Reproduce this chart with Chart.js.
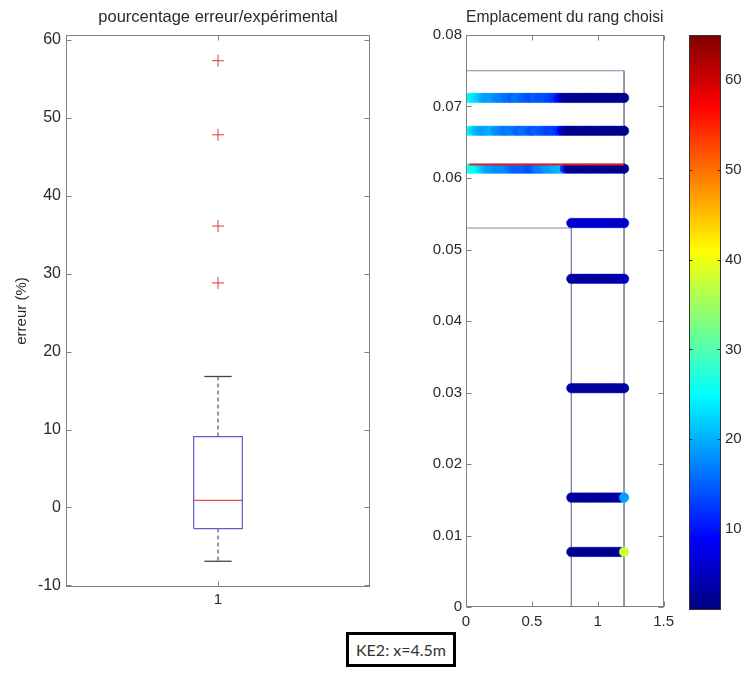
<!DOCTYPE html>
<html><head><meta charset="utf-8">
<script src="https://cdn.jsdelivr.net/npm/chart.js@4.4.0/dist/chart.umd.min.js"></script>
<style>
html,body{margin:0;padding:0;background:#fff;width:752px;height:677px;overflow:hidden;}
canvas{position:absolute;}
#label{position:absolute;left:346px;top:632px;width:104px;height:29px;border:3px solid #000;font:16px Lato, sans-serif;color:#333;display:flex;align-items:center;justify-content:center;background:#fff;}
</style></head><body>
<canvas id="cLeft" width="380" height="620" style="left:0;top:0;width:380px;height:620px"></canvas>
<canvas id="cRight" width="280" height="640" style="left:400px;top:0;width:280px;height:640px"></canvas>
<canvas id="cBar" width="72" height="640" style="left:680px;top:0;width:72px;height:640px"></canvas>
<div id="label">KE2: x=4.5m</div>
<script>
// ---------- Left panel: boxplot of error (%) ----------
const boxCategories = ['1'];
const boxPositions = [1];
const boxLowerWhisker = [-6.9];
const boxQ1 = [-2.7];
const boxMedian = [0.9];
const boxQ3 = [9.1];
const boxUpperWhisker = [16.8];
const boxOutliers = [57.3, 47.8, 36.1, 28.8];
const leftYTicks = [-10, 0, 10, 20, 30, 40, 50, 60];

// ---------- Right panel: chosen rank locations ----------
const rightXTicks = [0, 0.5, 1, 1.5];
const rightYTicks = [0, 0.01, 0.02, 0.03, 0.04, 0.05, 0.06, 0.07, 0.08];
const rowY = [0.0712, 0.0666, 0.0613, 0.0537, 0.0459, 0.0306, 0.0153, 0.0077];
const xFull = [0, 0.025, 0.05, 0.075, 0.1, 0.125, 0.15, 0.175, 0.2, 0.225, 0.25, 0.275, 0.3, 0.325, 0.35, 0.375,
  0.4, 0.425, 0.45, 0.475, 0.5, 0.525, 0.55, 0.575, 0.6, 0.625, 0.65, 0.675, 0.7, 0.725, 0.75, 0.775,
  0.8, 0.825, 0.85, 0.875, 0.9, 0.925, 0.95, 0.975, 1.0, 1.025, 1.05, 1.075, 1.1, 1.125, 1.15, 1.175, 1.2];
const xPart = [0.8, 0.825, 0.85, 0.875, 0.9, 0.925, 0.95, 0.975, 1.0, 1.025, 1.05, 1.075, 1.1, 1.125, 1.15, 1.175, 1.2];
const row1Err = [24, 25, 24, 23, 22, 20, 19, 19, 19, 18, 17, 17, 16, 16, 15, 16, 16, 15, 15, 14, 14, 15, 14, 14, 14, 13, 13, 12, 10, 6, 3, 2,
  2, 2, 2, 2, 2, 2, 2, 2, 2, 2, 2, 2, 2, 2, 2, 2, 2];
const row2Err = [25, 25, 23, 21, 20, 19, 19, 20, 20, 18, 18, 17, 16, 17, 17, 16, 15, 16, 16, 15, 14, 15, 15, 14, 14, 13, 13, 13, 12, 8, 4, 2,
  2, 2, 2, 2, 2, 2, 2, 2, 2, 2, 2, 2, 2, 2, 2, 2, 2];
const row3Err = [27, 26, 26, 25, 24, 22, 20, 19, 19, 18, 18, 18, 18, 17, 16, 15, 15, 15, 15, 14, 14, 16, 17, 17, 18, 19, 19, 20, 20, 21, 12, 3,
  2, 2, 2, 2, 2, 2, 2, 2, 2, 2, 2, 2, 2, 2, 2, 2, 2];
const row4Err = [6, 6, 6, 6, 6, 6, 6, 6, 6, 6, 6, 6, 6, 6, 5, 5, 6];
const row5Err = [3, 3, 3, 3, 3, 3, 3, 3, 3, 3, 3, 3, 3, 3, 4, 4, 5];
const row6Err = [3, 3, 3, 3, 3, 3, 3, 3, 3, 3, 3, 3, 3, 3, 3, 3, 3];
const row7Err = [3, 3, 3, 3, 3, 3, 3, 3, 3, 3, 3, 3, 3, 3, 3, 4, 19];
const row8Err = [2, 2, 2, 2, 2, 2, 2, 2, 2, 2, 2, 2, 2, 2, 2, 3, 38];
const redLineY = [0.0619];
const redLineX = [0.025, 1.2];
// outline of the domain: upper band (x 0..1.2, y 0.053..0.075) and column (x 0.8..1.2, y 0..0.053)
const outlineX = [0, 1.2, 1.2];
const outlineY = [0.075, 0.075, 0];
const stepX = [0, 0.8, 0.8];
const stepY = [0.053, 0.053, 0];

// ---------- Colour bar ----------
const cMin = 1, cMax = 65;
const colorbarTicks = [10, 20, 30, 40, 50, 60];

// ---------- helpers ----------
const clamp = v => Math.max(0, Math.min(1, v));
function jet(v) {
  const t = clamp((v - cMin) / (cMax - cMin));
  const r = clamp(Math.min(4 * t - 1.5, -4 * t + 4.5));
  const g = clamp(Math.min(4 * t - 0.5, -4 * t + 3.5));
  const b = clamp(Math.min(4 * t + 0.5, -4 * t + 2.5));
  return `rgb(${Math.round(r * 255)},${Math.round(g * 255)},${Math.round(b * 255)})`;
}

Chart.defaults.font.family = '"Liberation Sans", Arial, sans-serif';
Chart.defaults.font.size = 15;
Chart.defaults.color = '#2a2a2a';
Chart.defaults.animation = false;

const framePlugin = {
  id: 'frame',
  afterDraw(chart, args, o) {
    if (!o || !o.enabled) return;
    const { ctx, chartArea: a, scales } = chart;
    const L = Math.round(a.left) + 0.5, R = Math.round(a.right) - 0.5;
    const T = Math.round(a.top) + 0.5, B = Math.round(a.bottom) - 0.5;
    ctx.save();
    ctx.strokeStyle = o.color; ctx.lineWidth = 1;
    ctx.strokeRect(L, T, R - L, B - T);
    const n = o.tickLen;
    ctx.beginPath();
    if (o.y) (o.y).forEach(v => {
      const p = Math.round(scales.y.getPixelForValue(v)) + 0.5;
      ctx.moveTo(L, p); ctx.lineTo(L + n, p);
      ctx.moveTo(R, p); ctx.lineTo(R - n, p);
    });
    if (o.x) (o.x).forEach(v => {
      const p = Math.round(scales.x.getPixelForValue(v)) + 0.5;
      ctx.moveTo(p, B); ctx.lineTo(p, B - n);
      ctx.moveTo(p, T); ctx.lineTo(p, T + n);
    });
    ctx.stroke();
    ctx.restore();
  }
};

const titleOpts = text => ({
  display: true, text, fullSize: false,
  font: { size: 16.5, weight: 'normal' }, color: '#2a2a2a',
  padding: { top: 8, bottom: 7.2 }
});
const noGrid = { display: false, drawTicks: false, tickLength: 0 };

// ---------- Left chart ----------
const bw = 0.08, cw = 0.045;
const c = boxPositions[0];
new Chart(document.getElementById('cLeft'), {
  type: 'scatter',
  data: {
    datasets: [
      { data: [{x: c - bw, y: boxQ1[0]}, {x: c + bw, y: boxQ1[0]}, {x: c + bw, y: boxQ3[0]}, {x: c - bw, y: boxQ3[0]}, {x: c - bw, y: boxQ1[0]}],
        showLine: true, pointRadius: 0, borderColor: 'rgb(95,95,200)', borderWidth: 1.2 },
      { data: [{x: c - bw, y: boxMedian[0]}, {x: c + bw, y: boxMedian[0]}],
        showLine: true, pointRadius: 0, borderColor: 'rgb(225,80,80)', borderWidth: 1.2 },
      { data: [{x: c, y: boxQ3[0]}, {x: c, y: boxUpperWhisker[0]}],
        showLine: true, pointRadius: 0, borderColor: '#555', borderWidth: 1.2, borderDash: [4, 3] },
      { data: [{x: c, y: boxQ1[0]}, {x: c, y: boxLowerWhisker[0]}],
        showLine: true, pointRadius: 0, borderColor: '#555', borderWidth: 1.2, borderDash: [4, 3] },
      { data: [{x: c - cw, y: boxUpperWhisker[0]}, {x: c + cw, y: boxUpperWhisker[0]}],
        showLine: true, pointRadius: 0, borderColor: '#444', borderWidth: 1.3 },
      { data: [{x: c - cw, y: boxLowerWhisker[0]}, {x: c + cw, y: boxLowerWhisker[0]}],
        showLine: true, pointRadius: 0, borderColor: '#444', borderWidth: 1.3 },
      { data: boxOutliers.map(v => ({x: c, y: v})),
        showLine: false, pointStyle: 'cross', pointRadius: 6, borderColor: 'rgb(215,60,60)', backgroundColor: 'rgb(215,60,60)', borderWidth: 1 }
    ]
  },
  options: {
    responsive: false,
    layout: { padding: { left: 0, right: 10, top: 0, bottom: 0 } },
    plugins: {
      legend: { display: false }, tooltip: { enabled: false },
      title: titleOpts('pourcentage erreur/expérimental'),
      frame: { enabled: true, color: '#808080', tickLen: 5, y: leftYTicks, x: boxPositions }
    },
    scales: {
      x: { type: 'linear', min: 0.5, max: 1.5,
        grid: noGrid, border: { display: false },
        afterBuildTicks: s => { s.ticks = boxPositions.map(v => ({ value: v })); },
        ticks: { padding: 4, callback: (v, i) => boxCategories[i] },
        afterFit: s => { s.height = 33; } },
      y: { type: 'linear', min: -10.2, max: 60.6,
        grid: noGrid, border: { display: false },
        afterBuildTicks: s => { s.ticks = leftYTicks.map(v => ({ value: v })); },
        ticks: { padding: 5, font: { size: 16 }, callback: v => String(v) },
        title: { display: true, text: 'erreur (%)', font: { size: 15 }, padding: { top: 13, bottom: 0 } },
        afterFit: s => { s.width = 66; } }
    }
  },
  plugins: [framePlugin]
});

// ---------- Right chart ----------
const rows = [
  { y: rowY[0], xs: xFull, v: row1Err },
  { y: rowY[1], xs: xFull, v: row2Err },
  { y: rowY[2], xs: xFull, v: row3Err },
  { y: rowY[3], xs: xPart, v: row4Err },
  { y: rowY[4], xs: xPart, v: row5Err },
  { y: rowY[5], xs: xPart, v: row6Err },
  { y: rowY[6], xs: xPart, v: row7Err },
  { y: rowY[7], xs: xPart, v: row8Err }
];
const pts = [], cols = [];
rows.forEach(r => r.xs.forEach((x, i) => { pts.push({ x, y: r.y }); cols.push(jet(r.v[i])); }));

new Chart(document.getElementById('cRight'), {
  type: 'scatter',
  data: {
    datasets: [
      { data: redLineX.map(x => ({ x, y: redLineY[0] })), showLine: true, pointRadius: 0,
        borderColor: 'rgb(230,30,30)', borderWidth: 2, order: 1 },
      { data: pts, pointRadius: 4.8, pointBackgroundColor: cols, pointBorderColor: cols,
        pointBorderWidth: 0.5, showLine: false, clip: 0, order: 5 },
      { data: outlineX.map((x, i) => ({ x, y: outlineY[i] })), showLine: true, pointRadius: 0,
        borderColor: 'rgb(135,135,165)', borderWidth: 1, order: 10 },
      { data: stepX.map((x, i) => ({ x, y: stepY[i] })), showLine: true, pointRadius: 0,
        borderColor: 'rgb(135,135,165)', borderWidth: 1, order: 10 }
    ]
  },
  options: {
    responsive: false,
    layout: { padding: { left: 0, right: 14, top: 0, bottom: 0 } },
    plugins: {
      legend: { display: false }, tooltip: { enabled: false },
      title: titleOpts('Emplacement du rang choisi'),
      frame: { enabled: true, color: '#808080', tickLen: 5, y: rightYTicks, x: rightXTicks }
    },
    scales: {
      x: { type: 'linear', min: 0, max: 1.5,
        grid: noGrid, border: { display: false },
        afterBuildTicks: s => { s.ticks = rightXTicks.map(v => ({ value: v })); },
        ticks: { padding: 6, callback: v => String(v) },
        afterFit: s => { s.height = 33; } },
      y: { type: 'linear', min: 0, max: 0.08,
        grid: noGrid, border: { display: false },
        afterBuildTicks: s => { s.ticks = rightYTicks.map(v => ({ value: v })); },
        ticks: { padding: 4, callback: v => String(v) },
        afterFit: s => { s.width = 66; } }
    }
  },
  plugins: [framePlugin]
});

// ---------- Colour bar ----------
new Chart(document.getElementById('cBar'), {
  type: 'bar',
  data: {
    labels: ['erreur'],
    datasets: [{
      data: [[cMin, cMax]],
      backgroundColor: ctx => {
        const ch = ctx.chart; if (!ch.chartArea) return null;
        const y = ch.scales.y;
        const g = ch.ctx.createLinearGradient(0, y.getPixelForValue(cMin), 0, y.getPixelForValue(cMax));
        for (let i = 0; i <= 64; i++) g.addColorStop(i / 64, jet(cMin + (i / 64) * (cMax - cMin)));
        return g;
      },
      borderColor: '#222', borderWidth: 1, borderSkipped: false,
      barPercentage: 1, categoryPercentage: 1
    }]
  },
  options: {
    responsive: false,
    layout: { padding: { left: 9, right: 0, top: 35, bottom: 30 } },
    plugins: {
      legend: { display: false }, tooltip: { enabled: false },
      frame: { enabled: true, color: '#333', tickLen: 3, y: colorbarTicks }
    },
    scales: {
      x: { display: false },
      y: { position: 'right', min: cMin, max: cMax,
        grid: noGrid, border: { display: false },
        afterBuildTicks: s => { s.ticks = colorbarTicks.map(v => ({ value: v })); },
        ticks: { padding: 4, callback: v => String(v) },
        afterFit: s => { s.width = 31; } }
    }
  },
  plugins: [framePlugin]
});
</script>
</body></html>
